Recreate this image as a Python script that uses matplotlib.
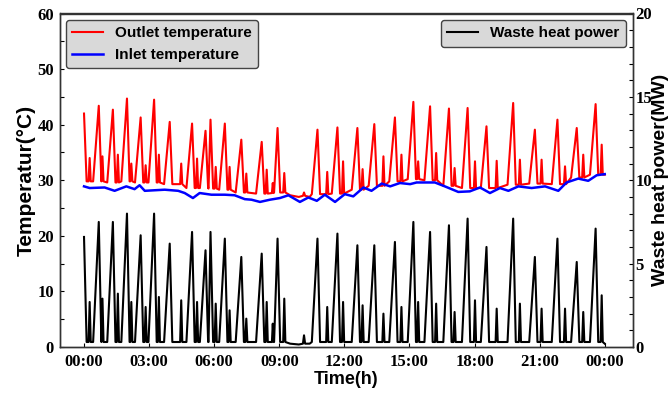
"""Outlet / inlet temperature and waste heat power over one day."""
import numpy as np
import matplotlib
matplotlib.use("Agg")
import matplotlib.pyplot as plt
from matplotlib.ticker import MultipleLocator, FixedLocator

# main heating cycles: ramp start hour, peak hour, outlet peak (C), power peak (MW)
rise_h = [0.0, 0.42, 1.07, 1.72, 2.35, 2.97, 3.69, 4.72, 5.34, 5.74, 6.23, 6.99,
          7.93, 8.76, 10.50, 11.42, 12.34, 13.12, 14.07, 14.92, 15.69, 16.56,
          17.42, 18.29, 19.52, 20.52, 21.56, 22.45, 23.32]
peak_h = [0.0, 0.68, 1.33, 1.98, 2.61, 3.23, 3.95, 4.98, 5.60, 5.83, 6.49, 7.25,
          8.19, 8.92, 10.76, 11.68, 12.60, 13.38, 14.33, 15.18, 15.95, 16.82,
          17.68, 18.55, 19.78, 20.78, 21.82, 22.71, 23.58]
outlet_peak = [42.0, 43.4, 42.7, 44.7, 41.3, 44.5, 40.5, 40.2, 38.9, 40.9, 40.2, 37.3,
               36.9, 39.4, 39.1, 39.5, 39.4, 40.1, 41.3, 44.1, 43.3, 42.9,
               43.0, 39.7, 43.9, 39.1, 40.9, 39.4, 43.7]
power_peak = [6.6, 7.5, 7.5, 8.0, 6.7, 8.0, 6.2, 6.9, 5.8, 6.9, 6.5, 5.4,
              5.6, 6.5, 6.5, 6.8, 6.1, 6.1, 6.3, 7.5, 6.9, 7.3,
              7.7, 6.0, 7.7, 5.4, 6.5, 5.1, 7.1]
# short after-spike of each cycle (None where there is none)
second_h = [0.26, 0.85, 1.56, 2.18, 2.84, 3.45, 4.48, 5.21, None, 6.07, 6.71, 7.48,
            8.42, 9.23, 11.21, 11.94, 12.84, 13.80, 14.63, 15.40, 16.23, 17.08,
            18.02, 19.02, 20.09, 21.09, 22.17, 23.01, 23.86]
outlet_second = [34.0, 34.3, 34.6, 33.0, 32.7, 34.6, 33.0, 33.9, None, 32.4, 32.4, 31.2,
                 31.9, 31.3, 31.5, 33.4, 32.0, 34.3, 34.6, 33.4, 34.9, 32.2,
                 33.4, 33.5, 33.7, 33.7, 32.5, 34.6, 36.4]
power_second = [2.7, 2.9, 3.2, 2.7, 2.4, 3.0, 2.8, 2.7, None, 2.6, 2.2, 1.7,
                2.7, 2.9, 2.4, 2.7, 2.5, 2.0, 2.4, 2.7, 2.6, 2.1,
                2.8, 2.3, 2.6, 2.3, 2.3, 2.1, 3.1]
# outlet level between cycles
outlet_base = [29.8, 29.8, 29.6, 29.8, 29.6, 29.6, 29.3, 28.6, 28.6, 28.5, 28.3, 27.8,
               27.6, 27.8, 27.5, 27.6, 28.3, 29.0, 29.8, 30.2, 30.0, 29.0,
               28.6, 28.6, 29.2, 29.4, 29.3, 30.5, 31.0]
power_base = 0.3

# quiet spell, small blips and the last sample
extra_h = [8.66, 8.70, 8.74, 9.50, 9.90, 10.09, 10.14, 10.19, 10.40, 24.0]
extra_outlet = [27.7, 29.5, 27.7, 27.3, 27.0, 27.2, 27.8, 27.2, 27.0, 31.0]
extra_power = [0.3, 1.4, 0.3, 0.2, 0.15, 0.2, 0.7, 0.2, 0.2, 0.2]

inlet_h = [0.0, 0.26, 0.95, 1.41, 1.95, 2.33, 2.56, 2.80, 3.72, 4.34, 4.64, 5.02,
           5.33, 5.87, 6.49, 6.94, 7.41, 7.72, 8.11, 8.57, 9.03, 9.42, 9.95, 10.34,
           10.73, 11.10, 11.57, 12.02, 12.41, 12.88, 13.25, 13.72, 14.11, 14.56,
           15.03, 15.33, 16.17, 16.63, 17.25, 17.78, 18.25, 18.71, 19.17, 19.56,
           20.02, 20.63, 21.25, 21.86, 22.24, 22.78, 23.24, 23.63, 24.0]
inlet_c = [28.9, 28.6, 28.7, 28.1, 28.9, 28.4, 29.1, 28.1, 28.3, 28.1, 27.7, 26.8,
           27.7, 27.4, 27.4, 27.3, 26.6, 26.5, 26.1, 26.5, 26.8, 27.3, 26.1, 26.9,
           26.3, 27.4, 26.1, 27.5, 27.1, 28.7, 28.1, 29.4, 28.9, 29.5,
           29.3, 29.6, 29.6, 28.9, 27.9, 28.0, 28.7, 27.7, 28.6, 28.1,
           28.9, 28.6, 28.9, 28.1, 29.6, 30.3, 29.9, 30.9, 31.1]

tick_h = [0, 3, 6, 9, 12, 15, 18, 21, 24]
tick_labels = ["00:00", "03:00", "06:00", "09:00", "12:00", "15:00", "18:00", "21:00", "00:00"]

FALL = 0.12    # hours from peak back to base
SPIKE = 0.05   # half width of the after-spike


def trace(peaks, seconds, bases, ex):
    """Join cycle ramps, peaks, after-spikes and base levels into one polyline."""
    pts = []
    for tr, tp, pv, ts, sv, b in zip(rise_h, peak_h, peaks, second_h, seconds, bases):
        if tr < tp:
            pts.append((tr, b))
        pts += [(tp, pv), (tp + FALL, b)]
        if ts is not None:
            pts += [(ts - SPIKE, b), (ts, sv), (ts + SPIKE, b)]
    pts += list(zip(extra_h, ex))
    pts.sort(key=lambda p: p[0])
    t, v = zip(*pts)
    return np.array(t), np.array(v)


out_t, out_v = trace(outlet_peak, outlet_second, outlet_base, extra_outlet)
pw_t, pw_v = trace(power_peak, power_second, [power_base] * len(peak_h), extra_power)

SERIF = {"family": "Liberation Serif", "weight": "bold", "size": 12}
plt.rcParams.update({"font.family": "Liberation Sans", "font.weight": "bold"})

fig = plt.figure(figsize=(6.69, 3.93), dpi=100)
ax = fig.add_axes([59.5 / 669, 46 / 393, 573 / 669, 333.5 / 393])
ax2 = ax.twinx()

ax.plot(out_t, out_v, color="red", lw=1.5, label="Outlet temperature")
ax.plot(inlet_h, inlet_c, color="blue", lw=1.8, label="Inlet temperature")
ax2.plot(pw_t, pw_v, color="black", lw=1.5, label="Waste heat power")

ax.set_xlim(-1.13, 25.28)
ax.set_ylim(0, 60)
ax2.set_ylim(0, 20)
ax.xaxis.set_major_locator(FixedLocator(tick_h))
ax.set_xticklabels(tick_labels, fontdict=SERIF)
ax.yaxis.set_major_locator(MultipleLocator(10))
ax.yaxis.set_minor_locator(MultipleLocator(5))
ax2.yaxis.set_major_locator(MultipleLocator(5))
ax2.yaxis.set_minor_locator(MultipleLocator(1))
for lab in ax.get_yticklabels() + ax2.get_yticklabels():
    lab.set_fontproperties(SERIF)
    lab.set_fontweight("bold")

ax.tick_params(axis="both", which="both", direction="in", length=3, width=0.8)
ax.tick_params(axis="x", pad=5)
ax.tick_params(axis="y", pad=4)
ax2.tick_params(axis="y", which="both", direction="in", length=3, width=0.8, pad=2)
for a in (ax, ax2):
    for s in a.spines.values():
        s.set_linewidth(1.0)
        s.set_color("#333333")

ax.set_xlabel("Time(h)", fontsize=13, fontweight="bold", labelpad=1)
ax.set_ylabel("Temperatur(°C)", fontsize=15, fontweight="bold", labelpad=1)
ax2.set_ylabel("Waste heat power(MW)", fontsize=14, fontweight="bold", labelpad=0)

legend_kw = dict(facecolor="#d9d9d9", edgecolor="#444444", framealpha=1,
                 fancybox=True, borderaxespad=0.45, handlelength=2.0,
                 prop={"weight": "bold", "size": 11})
ax.legend(loc="upper left", **legend_kw)
ax2.legend(loc="upper right", **legend_kw)

fig.savefig("out.png", dpi=100)
